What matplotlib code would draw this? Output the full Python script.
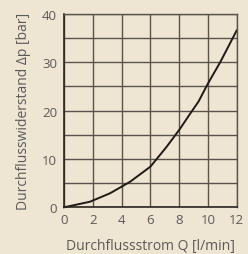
import matplotlib
matplotlib.use("Agg")
import matplotlib.pyplot as plt
from matplotlib.ticker import MultipleLocator

flow = [0, 1.8, 3.2, 4.6, 6.0, 7.1, 8.05, 8.75, 9.35, 10.0, 10.85, 12.0]
dp = [0, 1.15, 2.9, 5.3, 8.4, 12.4, 16.2, 19.3, 21.9, 25.6, 30.0, 36.6]
xticks = [0, 2, 4, 6, 8, 10, 12]
yticks = [0, 10, 20, 30, 40]

bg = "#EEE6D2"
grid_c = "#5A534A"
txt = "#5A5A5A"

plt.rcParams['font.family'] = ['Open Sans', 'DejaVu Sans']
fig = plt.figure(figsize=(2.48, 2.55), dpi=100, facecolor=bg)
ax = fig.add_axes([64/248, 1-208.3/255, (236.7-64)/248, (208.3-15)/255])
ax.set_facecolor(bg)
ax.set_xlim(0, 12)
ax.set_ylim(0, 40)
ax.yaxis.set_minor_locator(MultipleLocator(5))
ax.set_xticks(xticks)
ax.set_yticks(yticks)
ax.grid(True, which='both', color=grid_c, linewidth=1.0)
ax.set_axisbelow(True)
for s in ['top', 'right']:
    ax.spines[s].set_color(grid_c)
    ax.spines[s].set_linewidth(1.0)
for s in ['left', 'bottom']:
    ax.spines[s].set_color("#2A2520")
    ax.spines[s].set_linewidth(1.2)
ax.tick_params(which='both', length=0, labelsize=9.5, labelcolor=txt)
ax.tick_params(axis='x', pad=4)
ax.tick_params(axis='y', pad=5)
ax.plot(flow, dp, color="#1E1A18", linewidth=1.4, clip_on=False)
ax.set_xlabel("Durchflussstrom Q [l/min]", fontsize=10, color=txt, labelpad=9)
ax.set_ylabel("Durchflusswiderstand Δp [bar]", fontsize=10, color=txt, labelpad=8)
fig.savefig("out.png", dpi=100, facecolor=bg)
